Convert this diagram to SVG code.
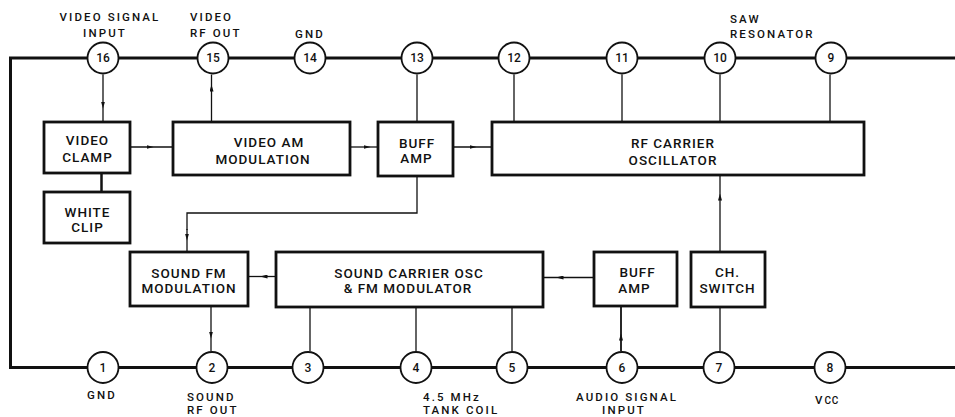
<svg xmlns="http://www.w3.org/2000/svg" width="955" height="417" viewBox="0 0 955 417">
<defs>
<marker id="ah" viewBox="0 0 7 4" refX="3.5" refY="2" markerWidth="7" markerHeight="4" markerUnits="userSpaceOnUse" orient="auto"><path d="M0,0 L7,2 L0,4 z" fill="#111"/></marker>
<style>
.bus{fill:none;stroke:#111;stroke-width:3;stroke-linecap:square}
.w{fill:none;stroke:#111;stroke-width:1.3}
.wa{fill:none;stroke:#111;stroke-width:1.3;marker-mid:url(#ah)}
.box{fill:#fff;stroke:#111;stroke-width:2.8}
.pin{fill:#fff;stroke:#111;stroke-width:1.8}
text{font-family:Roboto,"Liberation Sans",Arial,sans-serif;font-weight:500;fill:#111}
.bt{font-size:13.5px;letter-spacing:1px;text-anchor:middle}
.pn{font-size:12px;text-anchor:middle}
.lb{font-size:11.5px;letter-spacing:2.1px}
.c{text-anchor:middle}
</style>
</defs>
<rect width="955" height="417" fill="#fff"/>
<g id="connectors">
<path class="bus" d="M955,58 H10.5 V367.5 H955"/>
<path class="wa" d="M103,74.5 V105 V122"/>
<path class="wa" d="M130,147 H150 H173"/>
<path class="wa" d="M211.5,122 V88 V74.5"/>
<path class="w" d="M417,74.5 V122"/>
<path class="wa" d="M350,147 H367 H378"/>
<path class="wa" d="M453,147 H473 H492"/>
<path class="w" d="M417,176 V213 H187 V230"/>
<path class="wa" d="M187,229 V237 V252"/>
<path class="w" d="M101.5,173 V192" style="stroke-width:2.5"/>
<path class="w" d="M514,74.5 V122"/>
<path class="w" d="M622,74.5 V122"/>
<path class="w" d="M720,74.5 V122"/>
<path class="w" d="M830,74.5 V122"/>
<path class="wa" d="M720,252 V197 V175"/>
<path class="wa" d="M276,276.5 H264 H248"/>
<path class="wa" d="M594,277.5 H560 H543"/>
<path class="wa" d="M211,307 V335 V351"/>
<path class="w" d="M310,307 V351"/>
<path class="w" d="M416,307 V351"/>
<path class="w" d="M512,307 V351"/>
<path class="wa" d="M621,351 V337 V306" style="stroke-width:1.8"/>
<path class="w" d="M720,351 V307"/>
</g>
<g id="video-clamp"><rect class="box" x="44" y="122" width="86" height="51"/><text class="bt" x="87.5" y="145">VIDEO</text><text class="bt" x="87.5" y="162">CLAMP</text></g>
<g id="white-clip"><rect class="box" x="44" y="192" width="86" height="51"/><text class="bt" x="87.5" y="217">WHITE</text><text class="bt" x="87.5" y="232">CLIP</text></g>
<g id="video-am"><rect class="box" x="173" y="122" width="177" height="53"/><text class="bt" x="269" y="147">VIDEO AM</text><text class="bt" x="263" y="164">MODULATION</text></g>
<g id="buff-amp-top"><rect class="box" x="378" y="122" width="75" height="54"/><text class="bt" x="417" y="148">BUFF</text><text class="bt" x="416.5" y="163">AMP</text></g>
<g id="rf-carrier"><rect class="box" x="492" y="122" width="372" height="53"/><text class="bt" x="673" y="148">RF CARRIER</text><text class="bt" x="673" y="165">OSCILLATOR</text></g>
<g id="sound-fm"><rect class="box" x="130" y="252" width="118" height="54"/><text class="bt" x="189" y="278">SOUND FM</text><text class="bt" x="189" y="293">MODULATION</text></g>
<g id="sound-carrier"><rect class="box" x="276" y="252" width="267" height="55"/><text class="bt" x="409" y="278">SOUND CARRIER OSC</text><text class="bt" x="408" y="293">&amp; FM MODULATOR</text></g>
<g id="buff-amp-bottom"><rect class="box" x="594" y="252" width="83" height="54"/><text class="bt" x="637.5" y="277">BUFF</text><text class="bt" x="634.5" y="293">AMP</text></g>
<g id="ch-switch"><rect class="box" x="691" y="252" width="74" height="55"/><text class="bt" x="727.5" y="277">CH.</text><text class="bt" x="727.5" y="293">SWITCH</text></g>
<g id="pin16"><circle class="pin" cx="103" cy="58" r="15.5"/><text class="pn" x="103" y="62.3">16</text></g>
<g id="pin15"><circle class="pin" cx="213" cy="58" r="15.5"/><text class="pn" x="213" y="62.3">15</text></g>
<g id="pin14"><circle class="pin" cx="310" cy="58" r="15.5"/><text class="pn" x="310" y="62.3">14</text></g>
<g id="pin13"><circle class="pin" cx="417" cy="58" r="15.5"/><text class="pn" x="417" y="62.3">13</text></g>
<g id="pin12"><circle class="pin" cx="514" cy="58" r="15.5"/><text class="pn" x="514" y="62.3">12</text></g>
<g id="pin11"><circle class="pin" cx="622" cy="58" r="15.5"/><text class="pn" x="622" y="62.3">11</text></g>
<g id="pin10"><circle class="pin" cx="720" cy="58" r="15.5"/><text class="pn" x="720" y="62.3">10</text></g>
<g id="pin9"><circle class="pin" cx="831" cy="58" r="15.5"/><text class="pn" x="831" y="62.3">9</text></g>
<g id="pin1"><circle class="pin" cx="103" cy="367.5" r="15.5"/><text class="pn" x="103" y="371.8">1</text></g>
<g id="pin2"><circle class="pin" cx="212" cy="367.5" r="15.5"/><text class="pn" x="212" y="371.8">2</text></g>
<g id="pin3"><circle class="pin" cx="308" cy="367.5" r="15.5"/><text class="pn" x="308" y="371.8">3</text></g>
<g id="pin4"><circle class="pin" cx="416" cy="367.5" r="15.5"/><text class="pn" x="416" y="371.8">4</text></g>
<g id="pin5"><circle class="pin" cx="512" cy="367.5" r="15.5"/><text class="pn" x="512" y="371.8">5</text></g>
<g id="pin6"><circle class="pin" cx="622" cy="367.5" r="15.5"/><text class="pn" x="622" y="371.8">6</text></g>
<g id="pin7"><circle class="pin" cx="719" cy="367.5" r="15.5"/><text class="pn" x="719" y="371.8">7</text></g>
<g id="pin8"><circle class="pin" cx="830" cy="367.5" r="15.5"/><text class="pn" x="830" y="371.8">8</text></g>
<g id="labels">
<text class="lb c" x="110" y="21">VIDEO SIGNAL</text>
<text class="lb c" x="105" y="37">INPUT</text>
<text class="lb" x="190" y="21">VIDEO</text>
<text class="lb" x="190" y="37">RF OUT</text>
<text class="lb c" x="310" y="38">GND</text>
<text class="lb" x="730" y="23">SAW</text>
<text class="lb" x="730" y="38">RESONATOR</text>
<text class="lb c" x="102" y="399">GND</text>
<text class="lb" x="187" y="401">SOUND</text>
<text class="lb" x="187" y="414">RF OUT</text>
<text class="lb" x="423" y="401">4.5 MHz</text>
<text class="lb" x="423" y="414">TANK COIL</text>
<text class="lb c" x="627" y="401">AUDIO SIGNAL</text>
<text class="lb c" x="624" y="414">INPUT</text>
<text class="lb" x="815" y="404">V<tspan font-size="10" letter-spacing="0.8">CC</tspan></text>
</g>
</svg>
